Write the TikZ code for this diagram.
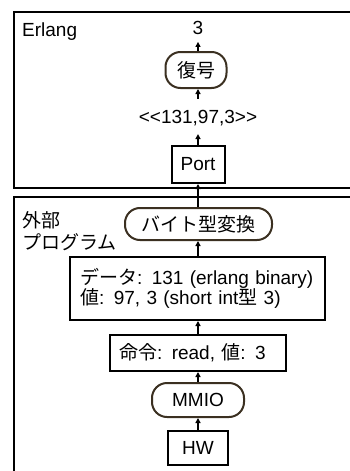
\documentclass[tikz,border=0pt]{standalone}
\usepackage{fontspec}
\setmainfont{Liberation Sans}
\newfontfamily\jp{Noto Sans CJK JP}
\usetikzlibrary{arrows.meta}
\definecolor{rbrown}{HTML}{3B3021}
\tikzset{
  frame/.style={draw=black, line width=2.4pt},
  sqbox/.style={draw=black, line width=2pt, inner sep=0pt, minimum height=0pt},
  rbox/.style={draw=rbrown, line width=2pt, rounded corners=15pt, inner sep=0pt},
  lbl/.style={inner sep=0pt},
  arr/.style={line width=1.3pt, -{Triangle[length=5pt,width=5pt]}},
}
\begin{document}
\begin{tikzpicture}[x=1pt,y=-1pt, font=\fontsize{19}{22}\selectfont]
\useasboundingbox (0,0) rectangle (350,471);
% frames
\draw[frame] (360,12) -- (14,12) -- (14,188) -- (360,188);
\draw[frame] (360,197) -- (14,197) -- (14,480);
\node[lbl, anchor=west] (erl) at (22,32) {Erlang};
\node[lbl, anchor=west, align=left, font=\fontsize{19}{22}\selectfont\jp] (ext) at (22,231) {外部\\プログラム};
% top part
\node[lbl] (three) at (198,28) {3};
\node[rbox, minimum width=61pt, minimum height=36pt, font=\fontsize{19}{22}\selectfont\jp] (dec) at (196,70) {復号};
\node[lbl] (bin) at (198,118) {{<}{<}131,97,3{>}{>}};
\node[sqbox, minimum width=53pt, minimum height=37pt] (port) at (198,164.5) {Port};
% bottom part
\node[rbox, minimum width=147pt, minimum height=32pt, font=\fontsize{19}{22}\selectfont\jp] (conv) at (198.5,224) {バイト型変換};
\node[sqbox, minimum width=255pt, minimum height=63pt, align=left, text width=235pt, font=\fontsize{19}{20.5}\selectfont] (data) at (197.5,288.5) {{\jp データ}: 131 (erlang binary)\\{\jp 値}: 97, 3 (short int{\jp 型} 3)};
\node[sqbox, minimum width=176pt, minimum height=36pt, align=left, text width=158pt] (cmd) at (198,353) {{\jp 命令}: read, {\jp 値}: 3};
\node[rbox, minimum width=92pt, minimum height=34pt] (mmio) at (198,400) {MMIO};
\node[sqbox, minimum width=60pt, minimum height=34pt] (hw) at (198,448) {HW};
% arrows
\draw[arr] (dec.north -| three) -- ([yshift=-7pt]three.south);
\draw[arr] ([yshift=11pt]bin.north) -- (dec.south -| bin);
\draw[arr] (port.north) -- ([yshift=-8pt]bin.south);
\draw[arr] (conv.north -| port) -- (port.south);
\draw[arr] (data.north -| port) -- (conv.south -| port);
\draw[arr] (cmd.north) -- (data.south -| cmd);
\draw[arr] (mmio.north) -- (cmd.south);
\draw[arr] (hw.north) -- (mmio.south);
\end{tikzpicture}
\end{document}
